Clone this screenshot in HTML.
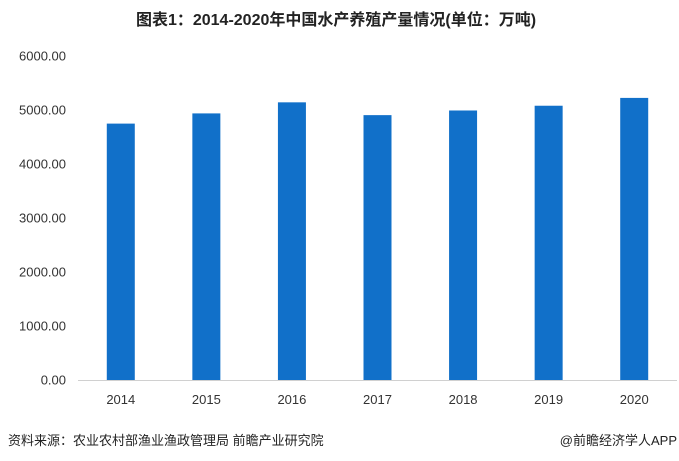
<!DOCTYPE html>
<html><head><meta charset="utf-8"><style>
body{margin:0;width:679px;height:461px;background:#fff;overflow:hidden;font-family:"Liberation Sans","Noto Sans CJK SC",sans-serif;}
svg{position:absolute;left:0;top:0}
</style></head><body>
<svg id="c" width="679" height="461">
<text x="336" y="25" text-anchor="middle" font-size="16" font-weight="bold" fill="#222">图表1：2014-2020年中国水产养殖产量情况(单位：万吨)</text>
<text x="8" y="445" font-size="13" fill="#222">资料来源：农业农村部渔业渔政管理局 前瞻产业研究院</text>
<text x="677" y="445" text-anchor="end" font-size="13" fill="#222">@前瞻经济学人APP</text>
</svg>
<script>
const categories=["2014","2015","2016","2017","2018","2019","2020"];
const values=[4748,4937,5142,4905,4991,5079,5224];
const ticks=[0,1000,2000,3000,4000,5000,6000];
const svg=document.getElementById('c');const NS='http://www.w3.org/2000/svg';
const x0=78,x1=677,y0=380,y1=56,ymax=6000;
const y=v=>y0-(v/ymax)*(y0-y1);
const bw=(x1-x0)/categories.length;
const xc=i=>x0+bw*(i+0.5);
function mk(t,a){const e=document.createElementNS(NS,t);for(const k in a)e.setAttribute(k,a[k]);svg.appendChild(e);return e;}
ticks.forEach(t=>{const e=mk('text',{x:66,y:y(t)+4.5,'text-anchor':'end','font-size':13,fill:'#333'});e.textContent=t.toFixed(2);

});
values.forEach((v,i)=>{const r=mk('rect',{x:xc(i)-14,y:y(v),width:28,height:y0-y(v),fill:'#1170c9'});


const t=mk('text',{x:xc(i),y:404,'text-anchor':'middle','font-size':13,fill:'#333'});t.textContent=categories[i];

});
const l=mk('line',{x1:x0,x2:x1,y1:y0+0.5,y2:y0+0.5,stroke:'#d0d0d0'});


</script>
</body></html>
